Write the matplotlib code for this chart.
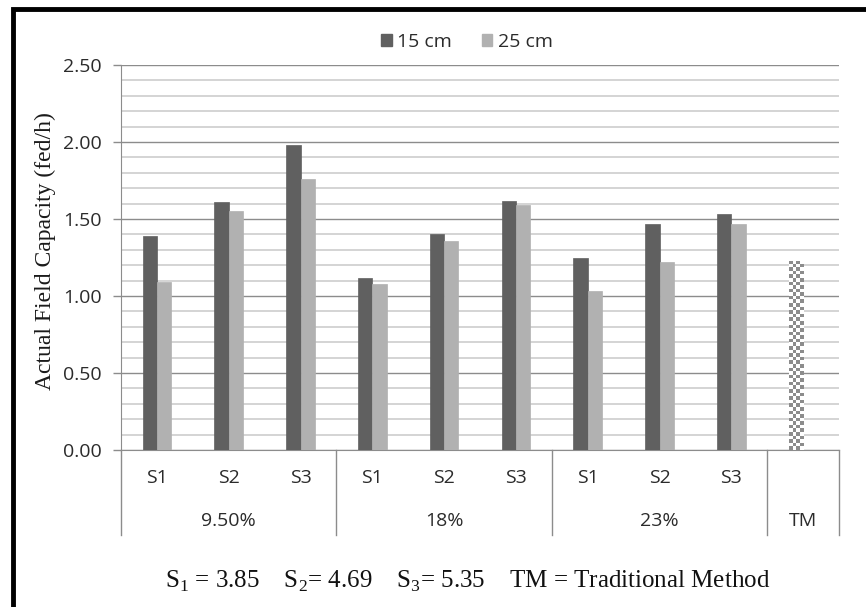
import numpy as np
import matplotlib
matplotlib.use("Agg")
import matplotlib.pyplot as plt
from matplotlib.patches import Patch, Rectangle
from matplotlib.transforms import blended_transform_factory

# ---------------- data ----------------
groups = ["9.50%", "18%", "23%", "TM"]
group_sizes = [3, 3, 3, 1]
sub_labels = ["S1", "S2", "S3", "S1", "S2", "S3", "S1", "S2", "S3", ""]
series_names = ["15 cm", "25 cm"]
values_15 = [1.39, 1.61, 1.98, 1.12, 1.40, 1.62, 1.25, 1.47, 1.53]
values_25 = [1.09, 1.55, 1.76, 1.08, 1.36, 1.59, 1.03, 1.22, 1.47]
tm_value = 1.23
y_ticks = [0.0, 0.5, 1.0, 1.5, 2.0, 2.5]
y_label = "Actual Field Capacity (fed/h)"
footnote = "S$_1$ = 3.85    S$_2$= 4.69    S$_3$= 5.35    TM = Traditional Method"

# ---------------- style ----------------
plt.rcParams["mathtext.fontset"] = "custom"
plt.rcParams["mathtext.rm"] = "Liberation Serif"
sans = "Open Sans"
serif = "Liberation Serif"
fs = 14
dark = "#606060"
light = "#b1b1b1"
axis_gray = "#8c8c8c"
text_col = "#2b2b2b"

fig = plt.figure(figsize=(8.66, 6.07), dpi=100)
ax = fig.add_axes([121 / 866, 157 / 607, 718 / 866, 385 / 607])

n = len(sub_labels)
x = np.arange(n)
bw = 0.2
ax.bar(x[:9] - bw / 2, values_15, width=bw, color=dark, edgecolor=dark, linewidth=0.5, zorder=3)
ax.bar(x[:9] + bw / 2, values_25, width=bw, color=light, edgecolor=light, linewidth=0.5, zorder=3)

# TM bar with checkerboard fill
tm_bar = ax.bar([x[9] - bw / 2], [tm_value], width=bw, color="none", edgecolor="none", zorder=3)[0]
ncols = 4
nrows = int(round(tm_value / 2.5 * 385 / 3.6))
checker = (np.indices((nrows, ncols)).sum(axis=0) % 2).astype(float)
im = ax.imshow(checker, cmap=matplotlib.colors.ListedColormap(["#8c8c8c", "#ffffff"]),
               extent=(tm_bar.get_x(), tm_bar.get_x() + tm_bar.get_width(), 0, tm_bar.get_height()),
               aspect="auto", interpolation="nearest", zorder=3, origin="lower")
im.set_clip_path(tm_bar)

ax.set_xlim(-0.5, n - 0.5)
ax.set_ylim(0, 2.5)
ax.set_aspect("auto")

# grid
ax.set_yticks(y_ticks)
ax.set_yticks(np.arange(0, 2.51, 0.1), minor=True)
ax.yaxis.grid(True, which="minor", color="#cdcdcd", linewidth=1.2, zorder=0)
ax.yaxis.grid(True, which="major", color=axis_gray, linewidth=1.0, zorder=1)
ax.set_axisbelow(True)
ax.set_yticklabels([f"{v:.2f}" for v in y_ticks], fontfamily=sans, fontsize=fs, color=text_col)
ax.tick_params(axis="y", which="major", length=6, width=1, color=axis_gray, pad=8)
ax.tick_params(axis="y", which="minor", length=0)
ax.set_xticks([])

for s in ["top", "right"]:
    ax.spines[s].set_visible(False)
ax.spines["left"].set_color(axis_gray)
ax.spines["bottom"].set_color(axis_gray)

# category labels
tr = blended_transform_factory(ax.transData, fig.transFigure)
for xi, lab in zip(x, sub_labels):
    ax.text(xi, (607 - 478) / 607, lab, transform=tr, ha="center", va="center",
            fontfamily=sans, fontsize=fs, color=text_col)
starts = np.concatenate([[0], np.cumsum(group_sizes)])
for g, a, b in zip(groups, starts[:-1], starts[1:]):
    ax.text((a + b - 1) / 2, (607 - 521) / 607, g, transform=tr, ha="center", va="center",
            fontfamily=sans, fontsize=fs, color=text_col)
trl = blended_transform_factory(ax.transData, ax.transAxes)
for b in starts:
    ax.plot([b - 0.5, b - 0.5], [0, -85 / 385], transform=trl, color=axis_gray,
            linewidth=1.0, clip_on=False)

ax.set_ylabel(y_label, fontfamily=serif, fontsize=17, color="#1a1a1a")
ax.yaxis.set_label_coords((56 - 121) / 718, (450 - 251) / 385)

handles = [Patch(facecolor=dark, edgecolor=dark), Patch(facecolor=light, edgecolor=light)]
fig.legend(handles, series_names, loc="center", bbox_to_anchor=(467 / 866, (607 - 42) / 607),
           ncol=2, frameon=False, handlelength=0.55, handleheight=0.55, handletextpad=0.3,
           columnspacing=1.5, prop={"family": sans, "size": fs}, labelcolor=text_col)

fig.text(468 / 866, (607 - 581) / 607, footnote, ha="center", va="center",
         fontfamily=serif, fontsize=18, color="#111111")

# outer black frame (left and top visible)
fig.patches.append(Rectangle((13 / 866, -0.05), 1.2, (607 - 9) / 607 + 0.05, transform=fig.transFigure,
                             fill=False, edgecolor="black", linewidth=3.5))

fig.savefig("out.png", dpi=100)
